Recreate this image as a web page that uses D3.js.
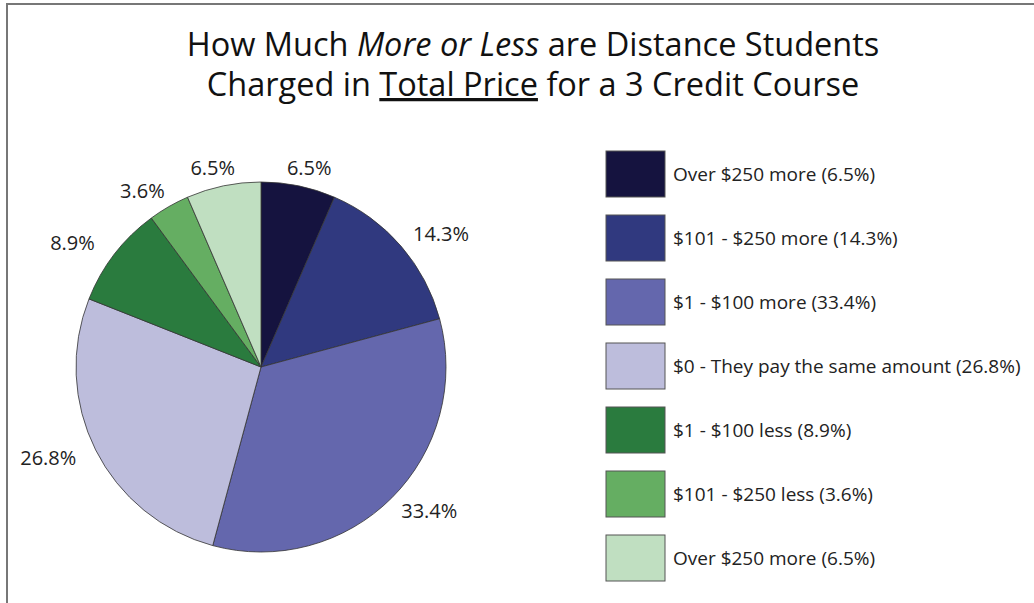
<!DOCTYPE html>
<html>
<head>
<meta charset="utf-8">
<script src="https://cdn.jsdelivr.net/npm/d3@7"></script>
<style>
  body { margin: 0; background: #fff; }
  svg { display: block; }
</style>
</head>
<body>
<svg id="chart"></svg>
<script>
const categories = [
  'Over $250 more',
  '$101 - $250 more',
  '$1 - $100 more',
  '$0 - They pay the same amount',
  '$1 - $100 less',
  '$101 - $250 less',
  'Over $250 more'
];
const values = [6.5, 14.3, 33.4, 26.8, 8.9, 3.6, 6.5];
const colors = ['#15133f', '#30397f', '#6467ad', '#bdbddc', '#2a7b3e', '#65ae62', '#c0dfc1'];

const width = 1034;
const height = 603;

const svg = d3.select('#chart')
  .attr('width', width)
  .attr('height', height);

// frame (top and left edges only, as in the picture)
svg.append('path')
  .attr('d', `M7,${height} L7,4 L${width},4`)
  .attr('fill', 'none')
  .attr('stroke', '#777')
  .attr('stroke-width', 2);

// title
const title = svg.append('text')
  .attr('text-anchor', 'middle')
  .attr('font-family', 'Open Sans, sans-serif')
  .attr('font-size', 32.5)
  .attr('fill', '#111');

const l1 = title.append('tspan').attr('x', 533).attr('y', 56);
l1.append('tspan').text('How Much ');
l1.append('tspan').attr('font-style', 'italic').text('More or Less');
l1.append('tspan').text(' are Distance Students');

const l2 = title.append('tspan').attr('x', 533).attr('y', 96);
l2.append('tspan').text('Charged in ');
l2.append('tspan').attr('text-decoration', 'underline').text('Total Price');
l2.append('tspan').text(' for a 3 Credit Course');

// pie
const cx = 261, cy = 367, radius = 185;
const g = svg.append('g').attr('transform', `translate(${cx},${cy})`);

const pie = d3.pie().sort(null).value(d => d);
const arcs = pie(values);
const arc = d3.arc().innerRadius(0).outerRadius(radius);

g.selectAll('path.slice')
  .data(arcs)
  .enter()
  .append('path')
  .attr('class', 'slice')
  .attr('d', arc)
  .attr('fill', (d, i) => colors[i])
  .attr('stroke', '#333')
  .attr('stroke-width', 0.8);

// outside labels, placed on an ellipse around the pie
const rx = radius + 53, ry = radius + 18;
g.selectAll('text.lbl')
  .data(arcs)
  .enter()
  .append('text')
  .attr('class', 'lbl')
  .attr('x', d => Math.sin((d.startAngle + d.endAngle) / 2) * rx)
  .attr('y', d => -Math.cos((d.startAngle + d.endAngle) / 2) * ry)
  .attr('dy', '0.35em')
  .attr('text-anchor', 'middle')
  .attr('font-family', 'Open Sans, sans-serif')
  .attr('font-size', 20)
  .attr('fill', '#222')
  .text(d => d.data.toFixed(1) + '%');

// legend
const legendY = d3.scaleBand()
  .domain(d3.range(categories.length))
  .range([151, 151 + 64 * categories.length])
  .paddingInner(0);

const legend = svg.append('g');
const item = legend.selectAll('g')
  .data(categories)
  .enter()
  .append('g')
  .attr('transform', (d, i) => `translate(606,${legendY(i)})`);

item.append('rect')
  .attr('width', 59)
  .attr('height', 46)
  .attr('fill', (d, i) => colors[i])
  .attr('stroke', '#555')
  .attr('stroke-width', 1);

item.append('text')
  .attr('x', 67)
  .attr('y', 23)
  .attr('dy', '0.35em')
  .attr('font-family', 'Open Sans, sans-serif')
  .attr('font-size', 19)
  .attr('fill', '#222')
  .text((d, i) => `${d} (${values[i].toFixed(1)}%)`);
</script>
</body>
</html>
